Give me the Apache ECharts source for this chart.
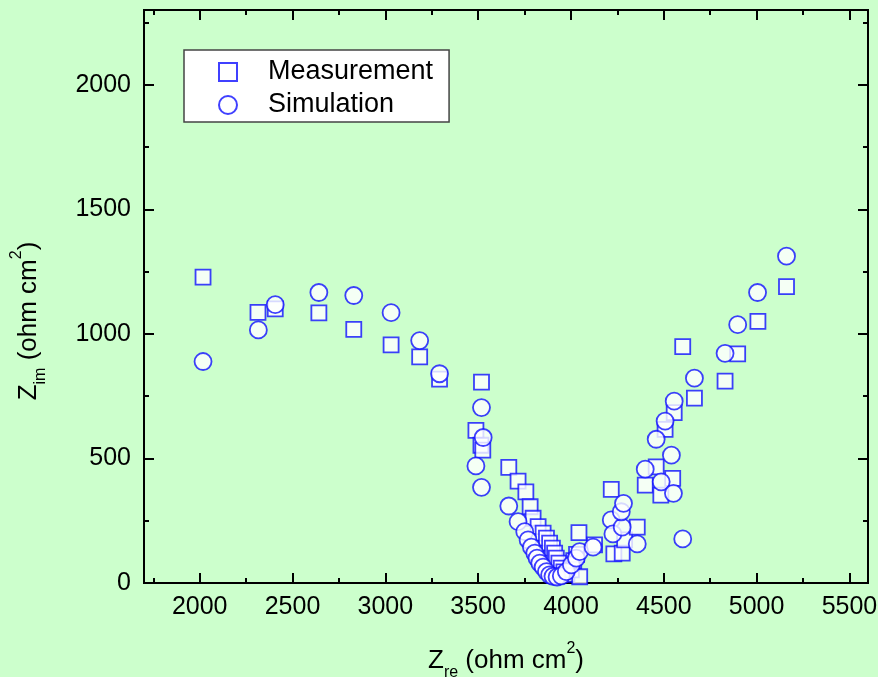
<!DOCTYPE html>
<html>
<head>
<meta charset="utf-8">
<script src="https://cdn.jsdelivr.net/npm/echarts@6/dist/echarts.min.js"></script>
<style>
  html, body { margin: 0; padding: 0; background: #CCFFCC; }
  #chart { width: 878px; height: 677px; }
</style>
</head>
<body>
<div id="chart"></div>
<script>
// Impedance spectrum: measured vs. simulated (Z_re, Z_im) in ohm cm^2
const measZre = [2018, 2314, 2407, 2642, 2830, 3031, 3185, 3292, 3518, 3488, 3515, 3525,
  3665, 3715, 3757, 3780, 3796, 3823, 3850, 3868, 3885, 3900, 3912, 3921, 3935, 3948,
  3962, 3978, 4002, 4015, 4030, 4047, 4043, 4127, 4231, 4276, 4289, 4217, 4357, 4400,
  4459, 4484, 4548, 4507, 4556, 4602, 4665, 4830, 4898, 5007, 5161];
const measZim = [1228, 1086, 1100, 1084, 1018, 956, 908, 818, 806, 613, 553, 533,
  464, 409, 366, 306, 260, 226, 200, 180, 160, 140, 120, 100, 80, 60,
  45, 35, 53, 90, 115, 25, 202, 153, 117, 120, 173, 376, 224, 393,
  466, 353, 420, 617, 684, 949, 742, 810, 920, 1050, 1190];

const simZre = [2018, 2316, 2407, 2642, 2830, 3031, 3185, 3292, 3518, 3527, 3488, 3518,
  3665, 3715, 3751, 3769, 3787, 3805, 3817, 3832, 3850, 3868, 3885, 3903, 3925, 3948,
  3975, 4002, 4029, 4047, 4119, 4217, 4226, 4276, 4271, 4283, 4357, 4400, 4459, 4486,
  4507, 4541, 4552, 4556, 4602, 4665, 4830, 4898, 5005, 5161];
const simZim = [889, 1016, 1117, 1166, 1154, 1085, 973, 840, 704, 584, 470, 384,
  309, 246, 206, 173, 144, 120, 100, 80, 64, 46, 33, 27, 24, 29,
  46, 73, 100, 126, 144, 253, 197, 224, 286, 320, 157, 457, 577, 406,
  650, 513, 360, 730, 177, 822, 922, 1037, 1166, 1312];

// Tick positions
const xMajorTicks = [2000, 2500, 3000, 3500, 4000, 4500, 5000, 5500];
const xMinorTicks = [1750, 2250, 2750, 3250, 3750, 4250, 4750, 5250];
const yMajorTicks = [0, 500, 1000, 1500, 2000];
const yMinorTicks = [250, 750, 1250, 1750, 2250];

const FONT = "'Liberation Sans', Arial, sans-serif";
const BLUE = '#1010ff';

const titleRich = {
  m: { fontSize: 26, fontFamily: FONT, color: '#000', lineHeight: 40, verticalAlign: 'middle' },
  s: { fontSize: 16, fontFamily: FONT, color: '#000', lineHeight: 16, verticalAlign: 'bottom' },
  p: { fontSize: 16, fontFamily: FONT, color: '#000', lineHeight: 16, verticalAlign: 'top' }
};

const plainNumber = v => String(v);

function xAxisDef(position, ticks, len, labels, extra) {
  return Object.assign({
    type: 'value', min: 1700, max: 5600, position: position,
    splitLine: { show: false },
    axisLine: { show: true, onZero: false, lineStyle: { color: '#000', width: 2 } },
    axisTick: { show: true, inside: true, length: len, customValues: ticks,
      lineStyle: { color: '#000', width: 2 } },
    axisLabel: labels ? { show: true, customValues: ticks, fontSize: 25, fontFamily: FONT,
      color: '#000', margin: 12, formatter: plainNumber } : { show: false }
  }, extra || {});
}
function yAxisDef(position, ticks, len, labels, extra) {
  return Object.assign({
    type: 'value', min: 0, max: 2300, position: position,
    splitLine: { show: false },
    axisLine: { show: true, onZero: false, lineStyle: { color: '#000', width: 2 } },
    axisTick: { show: true, inside: true, length: len, customValues: ticks,
      lineStyle: { color: '#000', width: 2 } },
    axisLabel: labels ? { show: true, customValues: ticks, fontSize: 25, fontFamily: FONT,
      color: '#000', margin: 13, formatter: plainNumber } : { show: false }
  }, extra || {});
}

const chart = echarts.init(document.getElementById('chart'), null, { renderer: 'canvas' });

chart.setOption({
  backgroundColor: '#CCFFCC',
  animation: false,
  grid: { left: 144, right: 10, top: 10, bottom: 94, containLabel: false, outerBoundsMode: 'none' },
  legend: {
    left: 184, top: 50, orient: 'vertical',
    backgroundColor: '#fff', borderColor: '#444', borderWidth: 1.5, borderRadius: 0,
    padding: [8, 16, 3, 34], itemGap: 5, itemWidth: 18, itemHeight: 18,
    formatter: name => '{t|' + name + '}',
    textStyle: {
      fontSize: 27, fontFamily: FONT, color: '#000', lineHeight: 28,
      rich: { t: { fontSize: 27, fontFamily: FONT, color: '#000', lineHeight: 28, padding: [0, 0, 0, 26] } }
    },
    data: ['Measurement', 'Simulation']
  },
  xAxis: [
    xAxisDef('bottom', xMajorTicks, 10, true, {
      name: '{m|Z}{s|re}{m| (ohm cm}{p|2}{m|)}',
      nameLocation: 'middle', nameGap: 58,
      nameTextStyle: { rich: titleRich }
    }),
    xAxisDef('bottom', xMinorTicks, 5, false),
    xAxisDef('top', xMajorTicks, 10, false),
    xAxisDef('top', xMinorTicks, 5, false)
  ],
  yAxis: [
    yAxisDef('left', yMajorTicks, 10, true, {
      name: '{m|Z}{s|im}{m| (ohm cm}{p|2}{m|)}',
      nameLocation: 'middle', nameGap: 95, nameRotate: 90,
      nameTextStyle: { rich: titleRich, padding: [0, 49, 0, 0] }
    }),
    yAxisDef('left', yMinorTicks, 5, false),
    yAxisDef('right', yMajorTicks, 10, false),
    yAxisDef('right', yMinorTicks, 5, false)
  ],
  series: [
    {
      name: 'Measurement', type: 'scatter', xAxisIndex: 0, yAxisIndex: 0,
      symbol: 'rect', symbolSize: 15,
      itemStyle: { color: '#fff', borderColor: BLUE, borderWidth: 1.8 },
      emphasis: { disabled: true },
      data: measZre.map((x, i) => [x, measZim[i]])
    },
    {
      name: 'Simulation', type: 'scatter', xAxisIndex: 0, yAxisIndex: 0,
      symbol: 'circle', symbolSize: 17,
      itemStyle: { color: '#fff', borderColor: BLUE, borderWidth: 1.8 },
      emphasis: { disabled: true },
      data: simZre.map((x, i) => [x, simZim[i]])
    }
  ]
});
</script>
</body>
</html>
